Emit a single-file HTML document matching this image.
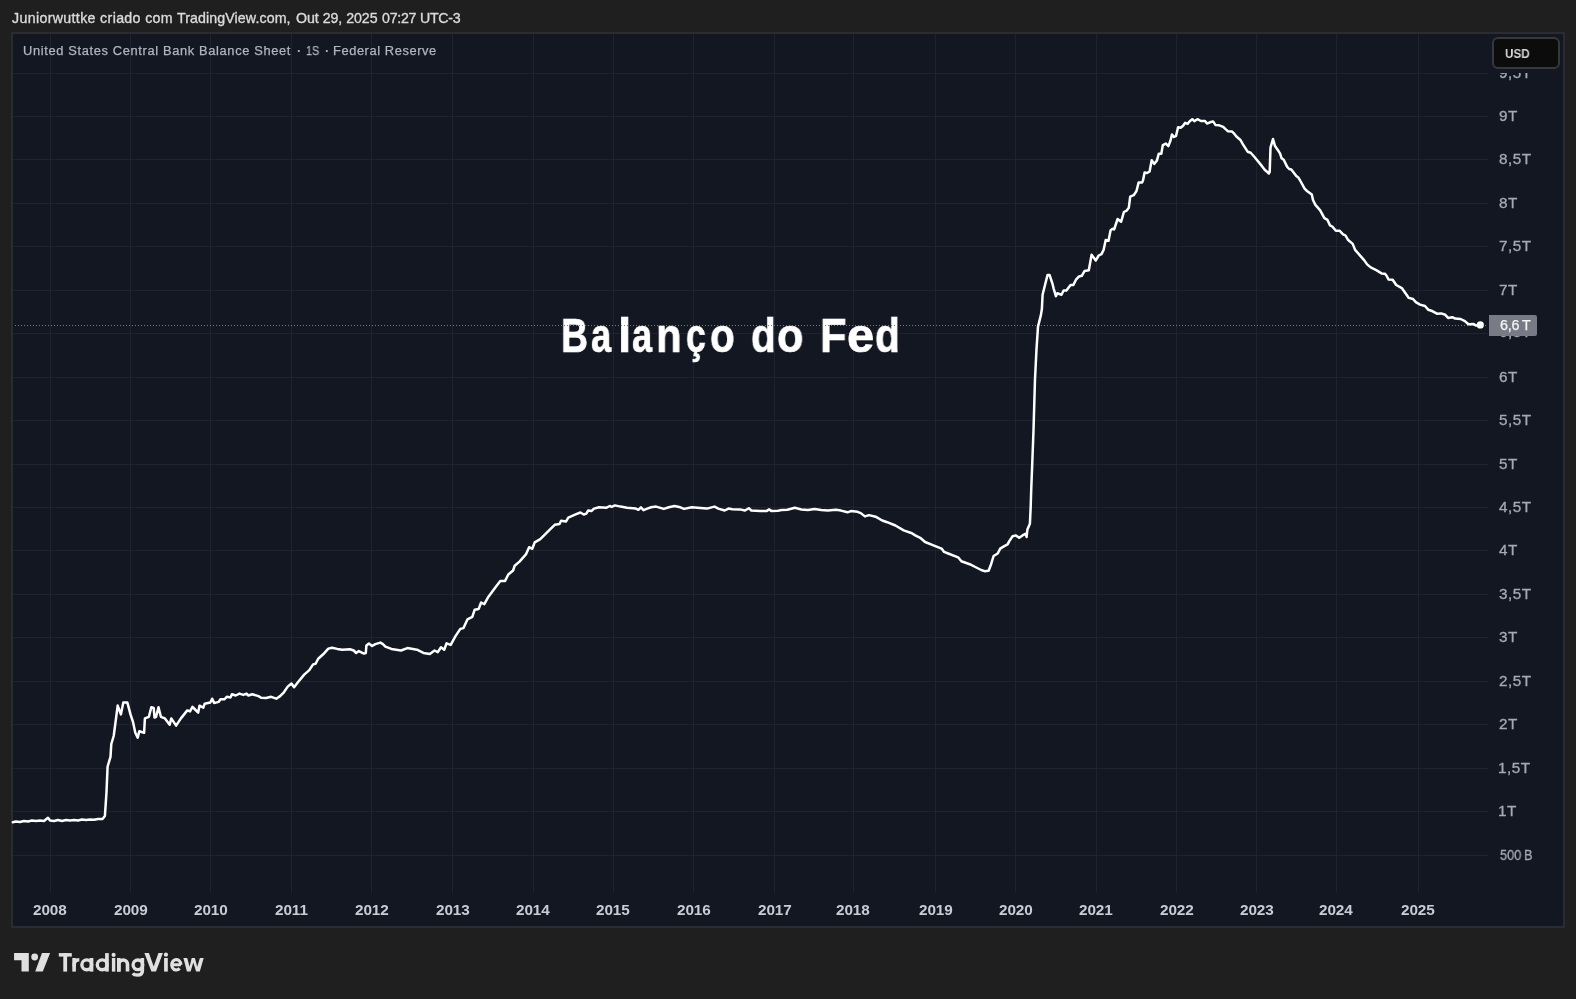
<!DOCTYPE html>
<html><head><meta charset="utf-8"><style>
html,body{margin:0;padding:0;}
body{width:1576px;height:999px;overflow:hidden;background:#1f1f1f;position:relative;font-family:"Liberation Sans",sans-serif;}
.t{position:absolute;white-space:nowrap;will-change:transform;}
.panel{position:absolute;left:11px;top:32px;width:1554px;height:896px;box-sizing:border-box;border:2px solid #2b2c31;background:#131722;}
svg{position:absolute;left:0;top:0;}
.clip{position:absolute;left:1490px;top:73.2px;width:70px;height:20px;overflow:hidden;}
.clip .t{margin-left:-1490px;margin-top:-73.2px;}
.usd{position:absolute;left:1492.3px;top:37.3px;width:68px;height:31.3px;box-sizing:border-box;border:2px solid #37383d;border-radius:6px;background:#0c0c0c;}
.last{position:absolute;left:1489px;top:315px;width:47.5px;height:21px;background:#787b86;border-radius:0 2px 2px 0;}
</style></head><body>
<div class="panel"></div>
<svg width="1576" height="999" viewBox="0 0 1576 999">
<rect x="50" y="34" width="1" height="859" fill="#1f2330"/>
<rect x="130" y="34" width="1" height="859" fill="#1f2330"/>
<rect x="210" y="34" width="1" height="859" fill="#1f2330"/>
<rect x="291" y="34" width="1" height="859" fill="#1f2330"/>
<rect x="371" y="34" width="1" height="859" fill="#1f2330"/>
<rect x="452" y="34" width="1" height="859" fill="#1f2330"/>
<rect x="533" y="34" width="1" height="859" fill="#1f2330"/>
<rect x="613" y="34" width="1" height="859" fill="#1f2330"/>
<rect x="693" y="34" width="1" height="859" fill="#1f2330"/>
<rect x="774" y="34" width="1" height="859" fill="#1f2330"/>
<rect x="853" y="34" width="1" height="859" fill="#1f2330"/>
<rect x="935" y="34" width="1" height="859" fill="#1f2330"/>
<rect x="1015" y="34" width="1" height="859" fill="#1f2330"/>
<rect x="1096" y="34" width="1" height="859" fill="#1f2330"/>
<rect x="1176" y="34" width="1" height="859" fill="#1f2330"/>
<rect x="1256" y="34" width="1" height="859" fill="#1f2330"/>
<rect x="1336" y="34" width="1" height="859" fill="#1f2330"/>
<rect x="1418" y="34" width="1" height="859" fill="#1f2330"/>
<rect x="13" y="73" width="1475" height="1" fill="#1f2330"/>
<rect x="13" y="116" width="1475" height="1" fill="#1f2330"/>
<rect x="13" y="159" width="1475" height="1" fill="#1f2330"/>
<rect x="13" y="203" width="1475" height="1" fill="#1f2330"/>
<rect x="13" y="246" width="1475" height="1" fill="#1f2330"/>
<rect x="13" y="290" width="1475" height="1" fill="#1f2330"/>
<rect x="13" y="333" width="1475" height="1" fill="#1f2330"/>
<rect x="13" y="377" width="1475" height="1" fill="#1f2330"/>
<rect x="13" y="420" width="1475" height="1" fill="#1f2330"/>
<rect x="13" y="464" width="1475" height="1" fill="#1f2330"/>
<rect x="13" y="507" width="1475" height="1" fill="#1f2330"/>
<rect x="13" y="550" width="1475" height="1" fill="#1f2330"/>
<rect x="13" y="594" width="1475" height="1" fill="#1f2330"/>
<rect x="13" y="637" width="1475" height="1" fill="#1f2330"/>
<rect x="13" y="681" width="1475" height="1" fill="#1f2330"/>
<rect x="13" y="724" width="1475" height="1" fill="#1f2330"/>
<rect x="13" y="768" width="1475" height="1" fill="#1f2330"/>
<rect x="13" y="811" width="1475" height="1" fill="#1f2330"/>
<rect x="13" y="855" width="1475" height="1" fill="#1f2330"/>
</svg>
<div class="t" style="left:12.20px;top:10.98px;font-size:14.2px;line-height:14.2px;letter-spacing:0.348px;color:#dadada;-webkit-text-stroke:0.35px #dadada;">Juniorwuttke criado com</div>
<div class="t" style="left:177.10px;top:10.98px;font-size:14.2px;line-height:14.2px;letter-spacing:0.104px;color:#dadada;-webkit-text-stroke:0.35px #dadada;">TradingView.com,</div>
<div class="t" style="left:295.60px;top:10.98px;font-size:14.2px;line-height:14.2px;letter-spacing:-0.040px;color:#dadada;-webkit-text-stroke:0.35px #dadada;">Out 29, 2025</div>
<div class="t" style="left:381.70px;top:10.98px;font-size:14.2px;line-height:14.2px;letter-spacing:-0.253px;color:#dadada;-webkit-text-stroke:0.35px #dadada;">07:27 UTC-3</div>
<div class="t" style="left:22.50px;top:45.02px;font-size:12.85px;line-height:12.85px;letter-spacing:0.650px;color:#b2b5be;-webkit-text-stroke:0.25px #b2b5be;">United States Central Bank Balance Sheet</div>
<div class="t" style="left:296.60px;top:44.72px;font-size:12.85px;line-height:12.85px;font-weight:bold;color:#b2b5be;">·</div>
<div class="t" style="left:306.00px;top:45.02px;font-size:12.85px;line-height:12.85px;transform:scaleX(0.8321);transform-origin:0 0;color:#b2b5be;-webkit-text-stroke:0.25px #b2b5be;">1S</div>
<div class="t" style="left:324.80px;top:44.72px;font-size:12.85px;line-height:12.85px;font-weight:bold;color:#b2b5be;">·</div>
<div class="t" style="left:333.00px;top:45.02px;font-size:12.85px;line-height:12.85px;letter-spacing:0.586px;color:#b2b5be;-webkit-text-stroke:0.25px #b2b5be;">Federal Reserve</div>
<div class="clip"><div class="t" style="left:1498.90px;top:66.01px;font-size:14.4px;line-height:14.4px;letter-spacing:0.500px;transform:scaleX(1.0600);transform-origin:0 0;color:#a6a9b2;-webkit-text-stroke:0.3px #a6a9b2;">9,5T</div></div>
<div class="t" style="left:1498.90px;top:109.01px;font-size:14.4px;line-height:14.4px;letter-spacing:0.500px;transform:scaleX(1.0600);transform-origin:0 0;color:#a6a9b2;-webkit-text-stroke:0.3px #a6a9b2;">9T</div>
<div class="t" style="left:1498.90px;top:152.01px;font-size:14.4px;line-height:14.4px;letter-spacing:0.500px;transform:scaleX(1.0600);transform-origin:0 0;color:#a6a9b2;-webkit-text-stroke:0.3px #a6a9b2;">8,5T</div>
<div class="t" style="left:1498.90px;top:196.01px;font-size:14.4px;line-height:14.4px;letter-spacing:0.500px;transform:scaleX(1.0600);transform-origin:0 0;color:#a6a9b2;-webkit-text-stroke:0.3px #a6a9b2;">8T</div>
<div class="t" style="left:1498.90px;top:239.01px;font-size:14.4px;line-height:14.4px;letter-spacing:0.500px;transform:scaleX(1.0600);transform-origin:0 0;color:#a6a9b2;-webkit-text-stroke:0.3px #a6a9b2;">7,5T</div>
<div class="t" style="left:1498.90px;top:283.01px;font-size:14.4px;line-height:14.4px;letter-spacing:0.500px;transform:scaleX(1.0600);transform-origin:0 0;color:#a6a9b2;-webkit-text-stroke:0.3px #a6a9b2;">7T</div>
<div class="t" style="left:1498.90px;top:324.91px;font-size:14.4px;line-height:14.4px;letter-spacing:0.500px;transform:scaleX(1.0600);transform-origin:0 0;color:#a6a9b2;-webkit-text-stroke:0.3px #a6a9b2;">6,5T</div>
<div class="t" style="left:1498.90px;top:370.01px;font-size:14.4px;line-height:14.4px;letter-spacing:0.500px;transform:scaleX(1.0600);transform-origin:0 0;color:#a6a9b2;-webkit-text-stroke:0.3px #a6a9b2;">6T</div>
<div class="t" style="left:1498.90px;top:413.01px;font-size:14.4px;line-height:14.4px;letter-spacing:0.500px;transform:scaleX(1.0600);transform-origin:0 0;color:#a6a9b2;-webkit-text-stroke:0.3px #a6a9b2;">5,5T</div>
<div class="t" style="left:1498.90px;top:457.01px;font-size:14.4px;line-height:14.4px;letter-spacing:0.500px;transform:scaleX(1.0600);transform-origin:0 0;color:#a6a9b2;-webkit-text-stroke:0.3px #a6a9b2;">5T</div>
<div class="t" style="left:1498.90px;top:500.01px;font-size:14.4px;line-height:14.4px;letter-spacing:0.500px;transform:scaleX(1.0600);transform-origin:0 0;color:#a6a9b2;-webkit-text-stroke:0.3px #a6a9b2;">4,5T</div>
<div class="t" style="left:1498.90px;top:543.01px;font-size:14.4px;line-height:14.4px;letter-spacing:0.500px;transform:scaleX(1.0600);transform-origin:0 0;color:#a6a9b2;-webkit-text-stroke:0.3px #a6a9b2;">4T</div>
<div class="t" style="left:1498.90px;top:587.01px;font-size:14.4px;line-height:14.4px;letter-spacing:0.500px;transform:scaleX(1.0600);transform-origin:0 0;color:#a6a9b2;-webkit-text-stroke:0.3px #a6a9b2;">3,5T</div>
<div class="t" style="left:1498.90px;top:630.01px;font-size:14.4px;line-height:14.4px;letter-spacing:0.500px;transform:scaleX(1.0600);transform-origin:0 0;color:#a6a9b2;-webkit-text-stroke:0.3px #a6a9b2;">3T</div>
<div class="t" style="left:1498.90px;top:674.01px;font-size:14.4px;line-height:14.4px;letter-spacing:0.500px;transform:scaleX(1.0600);transform-origin:0 0;color:#a6a9b2;-webkit-text-stroke:0.3px #a6a9b2;">2,5T</div>
<div class="t" style="left:1498.90px;top:717.01px;font-size:14.4px;line-height:14.4px;letter-spacing:0.500px;transform:scaleX(1.0600);transform-origin:0 0;color:#a6a9b2;-webkit-text-stroke:0.3px #a6a9b2;">2T</div>
<div class="t" style="left:1497.84px;top:761.01px;font-size:14.4px;line-height:14.4px;letter-spacing:0.500px;transform:scaleX(1.0600);transform-origin:0 0;color:#a6a9b2;-webkit-text-stroke:0.3px #a6a9b2;">1,5T</div>
<div class="t" style="left:1497.84px;top:804.01px;font-size:14.4px;line-height:14.4px;letter-spacing:0.500px;transform:scaleX(1.0600);transform-origin:0 0;color:#a6a9b2;-webkit-text-stroke:0.3px #a6a9b2;">1T</div>
<div class="t" style="left:1499.90px;top:848.01px;font-size:14.4px;line-height:14.4px;transform:scaleX(0.8888);transform-origin:0 0;color:#a6a9b2;-webkit-text-stroke:0.3px #a6a9b2;">500 B</div>
<div class="t" style="left:33.39px;top:902.05px;font-size:15.3px;line-height:15.3px;font-weight:bold;letter-spacing:-0.100px;color:#c9ccd4;">2008</div>
<div class="t" style="left:113.89px;top:902.05px;font-size:15.3px;line-height:15.3px;font-weight:bold;letter-spacing:-0.100px;color:#c9ccd4;">2009</div>
<div class="t" style="left:193.89px;top:902.05px;font-size:15.3px;line-height:15.3px;font-weight:bold;letter-spacing:-0.100px;color:#c9ccd4;">2010</div>
<div class="t" style="left:274.81px;top:902.05px;font-size:15.3px;line-height:15.3px;font-weight:bold;letter-spacing:-0.100px;color:#c9ccd4;">2011</div>
<div class="t" style="left:354.89px;top:902.05px;font-size:15.3px;line-height:15.3px;font-weight:bold;letter-spacing:-0.100px;color:#c9ccd4;">2012</div>
<div class="t" style="left:435.89px;top:902.05px;font-size:15.3px;line-height:15.3px;font-weight:bold;letter-spacing:-0.100px;color:#c9ccd4;">2013</div>
<div class="t" style="left:516.39px;top:902.05px;font-size:15.3px;line-height:15.3px;font-weight:bold;letter-spacing:-0.100px;color:#c9ccd4;">2014</div>
<div class="t" style="left:596.39px;top:902.05px;font-size:15.3px;line-height:15.3px;font-weight:bold;letter-spacing:-0.100px;color:#c9ccd4;">2015</div>
<div class="t" style="left:676.89px;top:902.05px;font-size:15.3px;line-height:15.3px;font-weight:bold;letter-spacing:-0.100px;color:#c9ccd4;">2016</div>
<div class="t" style="left:757.89px;top:902.05px;font-size:15.3px;line-height:15.3px;font-weight:bold;letter-spacing:-0.100px;color:#c9ccd4;">2017</div>
<div class="t" style="left:836.39px;top:902.05px;font-size:15.3px;line-height:15.3px;font-weight:bold;letter-spacing:-0.100px;color:#c9ccd4;">2018</div>
<div class="t" style="left:918.89px;top:902.05px;font-size:15.3px;line-height:15.3px;font-weight:bold;letter-spacing:-0.100px;color:#c9ccd4;">2019</div>
<div class="t" style="left:998.89px;top:902.05px;font-size:15.3px;line-height:15.3px;font-weight:bold;letter-spacing:-0.100px;color:#c9ccd4;">2020</div>
<div class="t" style="left:1079.39px;top:902.05px;font-size:15.3px;line-height:15.3px;font-weight:bold;letter-spacing:-0.100px;color:#c9ccd4;">2021</div>
<div class="t" style="left:1159.89px;top:902.05px;font-size:15.3px;line-height:15.3px;font-weight:bold;letter-spacing:-0.100px;color:#c9ccd4;">2022</div>
<div class="t" style="left:1239.89px;top:902.05px;font-size:15.3px;line-height:15.3px;font-weight:bold;letter-spacing:-0.100px;color:#c9ccd4;">2023</div>
<div class="t" style="left:1319.39px;top:902.05px;font-size:15.3px;line-height:15.3px;font-weight:bold;letter-spacing:-0.100px;color:#c9ccd4;">2024</div>
<div class="t" style="left:1401.39px;top:902.05px;font-size:15.3px;line-height:15.3px;font-weight:bold;letter-spacing:-0.100px;color:#c9ccd4;">2025</div>
<div class="t" style="left:561.41px;top:311.54px;font-size:47.8px;line-height:47.8px;font-weight:bold;transform:scaleX(0.7800);transform-origin:0 0;color:#ffffff;-webkit-text-stroke:0.7px #fff;">B</div>
<div class="t" style="left:590.79px;top:311.54px;font-size:47.8px;line-height:47.8px;font-weight:bold;transform:scaleX(0.7615);transform-origin:0 0;color:#ffffff;-webkit-text-stroke:0.7px #fff;">a</div>
<div class="t" style="left:617.90px;top:311.54px;font-size:47.8px;line-height:47.8px;font-weight:bold;color:#ffffff;-webkit-text-stroke:0.7px #fff;">l</div>
<div class="t" style="left:631.79px;top:311.54px;font-size:47.8px;line-height:47.8px;font-weight:bold;transform:scaleX(0.7577);transform-origin:0 0;color:#ffffff;-webkit-text-stroke:0.7px #fff;">a</div>
<div class="t" style="left:656.42px;top:311.54px;font-size:47.8px;line-height:47.8px;font-weight:bold;transform:scaleX(0.8750);transform-origin:0 0;color:#ffffff;-webkit-text-stroke:0.7px #fff;">n</div>
<div class="t" style="left:686.01px;top:311.54px;font-size:47.8px;line-height:47.8px;font-weight:bold;transform:scaleX(0.7440);transform-origin:0 0;color:#ffffff;-webkit-text-stroke:0.7px #fff;">ç</div>
<div class="t" style="left:710.01px;top:311.54px;font-size:47.8px;line-height:47.8px;font-weight:bold;transform:scaleX(0.8444);transform-origin:0 0;color:#ffffff;-webkit-text-stroke:0.7px #fff;">o</div>
<div class="t" style="left:751.20px;top:311.54px;font-size:47.8px;line-height:47.8px;font-weight:bold;transform:scaleX(0.8500);transform-origin:0 0;color:#ffffff;-webkit-text-stroke:0.7px #fff;">d</div>
<div class="t" style="left:777.45px;top:311.54px;font-size:47.8px;line-height:47.8px;font-weight:bold;transform:scaleX(0.9037);transform-origin:0 0;color:#ffffff;-webkit-text-stroke:0.7px #fff;">o</div>
<div class="t" style="left:819.53px;top:311.54px;font-size:47.8px;line-height:47.8px;font-weight:bold;transform:scaleX(0.9080);transform-origin:0 0;color:#ffffff;-webkit-text-stroke:0.7px #fff;">F</div>
<div class="t" style="left:846.93px;top:311.54px;font-size:47.8px;line-height:47.8px;font-weight:bold;transform:scaleX(1.0208);transform-origin:0 0;color:#ffffff;-webkit-text-stroke:0.7px #fff;">e</div>
<div class="t" style="left:874.50px;top:311.54px;font-size:47.8px;line-height:47.8px;font-weight:bold;transform:scaleX(0.8538);transform-origin:0 0;color:#ffffff;-webkit-text-stroke:0.7px #fff;">d</div>
<svg width="1576" height="999" viewBox="0 0 1576 999">
<line x1="15" y1="325.5" x2="1488" y2="325.5" stroke="#787b86" stroke-width="1" stroke-dasharray="1 2"/>
<path d="M12.8 822.2 L16.0 821.5 L20.0 822.0 L24.0 821.0 L28.0 821.5 L32.0 820.5 L36.0 821.0 L40.0 820.5 L44.0 821.0 L48.0 817.7 L50.0 820.5 L54.0 821.0 L58.0 820.0 L62.0 821.0 L66.0 820.0 L70.0 820.5 L74.0 820.0 L78.0 820.5 L82.0 819.5 L86.0 820.0 L90.0 819.5 L94.0 819.8 L98.0 819.0 L102.5 819.0 L104.9 816.0 L106.5 792.0 L107.6 766.5 L110.5 756.9 L111.3 744.0 L113.7 736.0 L117.7 705.6 L120.9 714.4 L123.3 702.4 L127.3 702.4 L130.5 714.4 L132.9 721.6 L135.3 732.8 L137.7 737.6 L139.3 731.2 L144.1 732.8 L144.9 718.4 L148.9 716.8 L151.3 707.2 L153.7 708.0 L154.5 717.6 L156.1 716.8 L158.5 707.2 L160.9 716.8 L164.9 718.4 L169.7 724.8 L171.3 718.4 L176.1 725.6 L180.9 718.4 L187.3 710.4 L190.0 711.4 L192.5 706.9 L195.1 709.5 L198.2 712.6 L199.5 705.7 L203.3 707.6 L204.6 703.8 L210.3 702.5 L212.2 698.7 L214.1 703.1 L218.6 701.9 L220.5 699.3 L224.3 699.3 L226.8 696.8 L230.6 697.4 L231.9 694.2 L235.7 695.5 L239.5 693.6 L243.3 694.9 L246.5 693.6 L248.4 695.5 L252.2 694.2 L258.5 696.1 L261.1 697.7 L266.1 698.0 L271.2 696.8 L276.3 698.7 L280.1 696.1 L283.9 692.3 L287.7 686.6 L291.5 683.5 L294.1 687.3 L297.9 682.2 L304.2 674.6 L309.3 670.1 L313.1 664.4 L315.6 663.8 L318.2 658.7 L323.2 654.3 L328.3 648.6 L332.1 647.7 L337.2 648.9 L342.3 649.8 L349.9 649.2 L353.7 650.5 L356.2 653.0 L358.8 651.1 L363.9 653.6 L365.8 653.0 L366.4 645.4 L368.9 643.5 L372.1 646.0 L375.3 644.1 L380.4 642.6 L382.9 644.1 L385.4 646.6 L391.4 648.9 L401.0 650.5 L407.4 648.1 L417.0 649.7 L423.4 652.9 L429.8 654.0 L434.6 650.5 L437.8 652.1 L441.0 647.3 L444.2 649.7 L446.6 643.3 L450.7 644.9 L455.5 636.1 L460.3 628.9 L463.5 628.1 L467.5 619.3 L472.3 616.9 L474.7 609.7 L478.7 608.9 L481.1 602.5 L484.3 604.1 L488.3 596.9 L495.5 587.3 L500.3 580.9 L505.1 580.9 L508.3 574.5 L513.1 570.5 L514.7 565.7 L519.5 561.6 L525.9 554.4 L529.1 547.2 L532.3 548.8 L534.7 542.4 L540.3 539.2 L548.3 531.2 L554.7 524.8 L559.5 524.0 L561.1 520.8 L565.9 521.6 L568.3 517.6 L575.6 514.4 L580.4 512.5 L583.8 514.5 L586.3 513.6 L588.2 510.5 L591.4 511.1 L594.0 508.6 L599.0 507.3 L606.6 507.7 L609.8 506.0 L611.7 506.9 L614.9 505.4 L620.6 506.6 L627.0 507.7 L635.8 508.6 L638.4 509.8 L640.9 507.3 L643.5 510.2 L647.3 508.6 L651.1 507.3 L656.1 506.6 L663.8 508.9 L668.8 507.3 L674.5 506.0 L680.3 507.3 L684.1 508.9 L691.7 507.3 L700.6 507.9 L706.9 508.6 L714.5 506.6 L718.3 508.6 L724.7 510.5 L728.5 508.6 L732.3 509.2 L739.9 509.4 L745.0 510.5 L748.8 508.2 L751.3 510.5 L760.2 511.1 L766.5 511.1 L769.1 509.4 L771.6 511.1 L778.0 510.7 L781.6 510.1 L787.4 509.8 L794.8 507.8 L801.4 509.5 L808.0 510.1 L814.6 509.0 L821.2 510.1 L827.8 510.6 L836.0 509.8 L841.0 510.6 L847.6 512.3 L850.9 511.1 L857.5 511.8 L860.8 513.1 L864.9 516.4 L869.0 515.1 L875.6 516.7 L882.2 520.5 L887.2 522.2 L895.4 525.5 L903.7 530.4 L911.9 533.2 L915.2 535.4 L920.2 537.8 L925.1 542.0 L933.4 545.3 L941.6 548.6 L944.1 551.9 L948.2 553.5 L958.1 557.3 L961.4 561.3 L969.7 564.2 L976.3 567.5 L981.2 570.0 L984.5 571.2 L988.6 570.8 L991.1 564.2 L993.6 556.0 L997.7 553.5 L1000.2 548.6 L1004.3 546.1 L1007.6 544.4 L1009.3 541.1 L1012.6 536.2 L1015.9 535.4 L1019.2 537.8 L1022.5 535.4 L1025.8 533.7 L1026.6 537.0 L1027.4 529.6 L1029.9 523.8 L1030.7 506.5 L1031.2 490.0 L1032.0 470.0 L1033.5 430.2 L1035.0 379.1 L1036.5 349.1 L1038.0 326.6 L1041.0 314.6 L1041.9 308.7 L1042.6 294.7 L1044.7 286.3 L1047.5 275.1 L1049.6 275.1 L1052.4 283.5 L1053.8 289.1 L1055.9 296.1 L1057.3 293.3 L1061.5 294.7 L1063.6 290.5 L1066.4 290.5 L1070.6 284.9 L1073.4 284.9 L1076.2 279.3 L1079.0 276.5 L1081.8 275.8 L1084.6 270.9 L1088.8 270.2 L1091.6 254.8 L1095.8 260.4 L1098.7 255.5 L1101.5 254.1 L1103.6 249.9 L1105.7 240.0 L1108.5 240.8 L1110.6 230.2 L1112.7 228.8 L1114.1 229.5 L1117.6 219.0 L1121.1 221.8 L1123.9 212.0 L1126.7 210.6 L1128.8 207.8 L1130.2 196.6 L1133.7 195.2 L1136.5 191.0 L1138.6 182.6 L1142.1 182.6 L1143.0 180.6 L1144.6 172.5 L1147.1 173.0 L1149.6 171.5 L1151.7 160.3 L1154.2 163.9 L1156.8 160.8 L1158.8 153.7 L1161.3 153.7 L1162.8 145.1 L1165.9 143.6 L1168.4 146.1 L1170.5 140.5 L1172.0 134.4 L1174.0 137.0 L1176.0 136.0 L1178.1 127.3 L1180.6 127.8 L1183.1 125.8 L1185.2 122.8 L1187.7 123.8 L1189.7 121.2 L1192.3 119.2 L1194.3 121.2 L1197.4 119.2 L1200.9 121.0 L1205.0 121.0 L1207.0 123.5 L1210.0 122.3 L1213.1 121.4 L1215.6 125.1 L1219.2 125.3 L1223.2 126.8 L1225.3 128.9 L1227.8 131.2 L1231.9 131.4 L1234.4 133.9 L1236.4 136.5 L1240.5 140.0 L1242.5 143.6 L1247.6 151.7 L1250.7 152.7 L1254.7 157.3 L1261.8 165.9 L1264.9 170.0 L1267.4 172.0 L1268.9 173.5 L1269.7 172.0 L1270.5 147.6 L1273.0 139.0 L1275.0 146.1 L1277.6 149.7 L1280.1 153.7 L1281.6 158.3 L1283.7 159.8 L1287.2 166.9 L1289.2 169.0 L1291.3 169.5 L1296.3 176.1 L1298.6 177.8 L1301.0 182.0 L1304.6 188.6 L1307.0 191.0 L1311.8 194.6 L1313.0 200.0 L1315.4 204.9 L1320.2 210.3 L1324.4 218.1 L1327.5 219.9 L1329.9 225.3 L1332.3 226.5 L1335.9 230.7 L1339.5 230.7 L1343.1 234.3 L1345.5 235.5 L1347.9 239.7 L1352.7 243.9 L1355.1 249.9 L1359.9 255.3 L1364.1 260.1 L1367.1 264.4 L1370.7 267.4 L1376.7 270.4 L1381.5 273.4 L1385.0 273.8 L1386.4 275.5 L1388.5 279.4 L1392.7 279.7 L1396.2 285.0 L1401.8 288.1 L1405.3 293.0 L1408.8 297.9 L1413.0 299.0 L1415.8 302.1 L1420.0 304.6 L1425.0 306.0 L1428.4 309.8 L1432.7 311.3 L1436.9 313.7 L1441.1 313.4 L1445.3 314.8 L1448.1 317.9 L1452.3 317.2 L1455.1 318.6 L1460.7 319.0 L1464.9 321.1 L1468.4 324.2 L1473.3 323.9 L1476.1 325.6 L1480.3 324.9" fill="none" stroke="#ffffff" stroke-width="2.5" stroke-linejoin="round" stroke-linecap="round"/>
<circle cx="1480.3" cy="324.9" r="3.6" fill="#ffffff"/>
<path d="M14.06 953H28.8V971.5H21.5V960.3H14.06Z" fill="#e0e0e0"/>
<circle cx="34.66" cy="957" r="3.4" fill="#e0e0e0"/>
<path d="M41.95 953H50.1L42.8 971.5H35.2Z" fill="#e0e0e0"/>
<g fill="#e0e0e0">
<rect x="58.8" y="953.1" width="13" height="3.5"/>
<rect x="63.3" y="953.1" width="3.8" height="18.5"/>
<rect x="72.3" y="958" width="3.6" height="13.6"/>
<rect x="89.6" y="958" width="3.75" height="13.6"/>
<rect x="105.1" y="953.1" width="3.7" height="18.5"/>
<rect x="111.9" y="958" width="3.4" height="13.6"/>
<circle cx="113.6" cy="954.9" r="2.05"/>
<rect x="117" y="958" width="3.6" height="13.6"/>
<polygon points="144.4,953.1 148.9,953.1 153.7,966.6 158.4,953.1 162.9,953.1 156,971.6 151.4,971.6"/>
<rect x="164.1" y="958" width="3.7" height="13.6"/>
<circle cx="165.95" cy="954.7" r="2.1"/>
<polygon points="183.4,957.9 187.2,957.9 189.6,966.8 191.7,957.9 194.9,957.9 197.2,966.8 199.9,957.9 203.7,957.9 199.8,971.6 196.1,971.6 193.3,962.6 190.6,971.6 186.9,971.6"/>
</g>
<g fill="none" stroke="#e0e0e0">
<path d="M74.1 966.5C74.1 961.3 76 959.8 79.3 959.8" stroke-width="3.5"/>
<circle cx="86.75" cy="964.8" r="4.9" stroke-width="3.4"/>
<circle cx="102.2" cy="964.8" r="4.9" stroke-width="3.4"/>
<path d="M118.8 971.6V964.4A4.35 4.35 0 0 1 127.5 964.4V971.6" stroke-width="3.6"/>
<circle cx="137.9" cy="964.8" r="4.8" stroke-width="3.4"/>
<path d="M142.4 958V970.5C142.4 974 140.2 975.1 137.4 975.1C135.3 975.1 133.8 974.5 132.8 973.3" stroke-width="3.5"/>
<path d="M171.7 964.75H180.9M180.9 964.75A4.6 5.2 0 1 0 179.6 968.4" stroke-width="3.2"/>
</g>

</svg>
<div class="usd"></div>
<div class="t" style="left:1504.50px;top:46.97px;font-size:13.5px;line-height:13.5px;font-weight:bold;transform:scaleX(0.8660);transform-origin:0 0;color:#d6d6d6;">USD</div>
<div class="last"></div>
<div class="t" style="left:1500.00px;top:318.00px;font-size:14.3px;line-height:14.3px;letter-spacing:-0.159px;color:#f4f4f4;-webkit-text-stroke:0.25px #f4f4f4;">6,6 T</div>

</body></html>
